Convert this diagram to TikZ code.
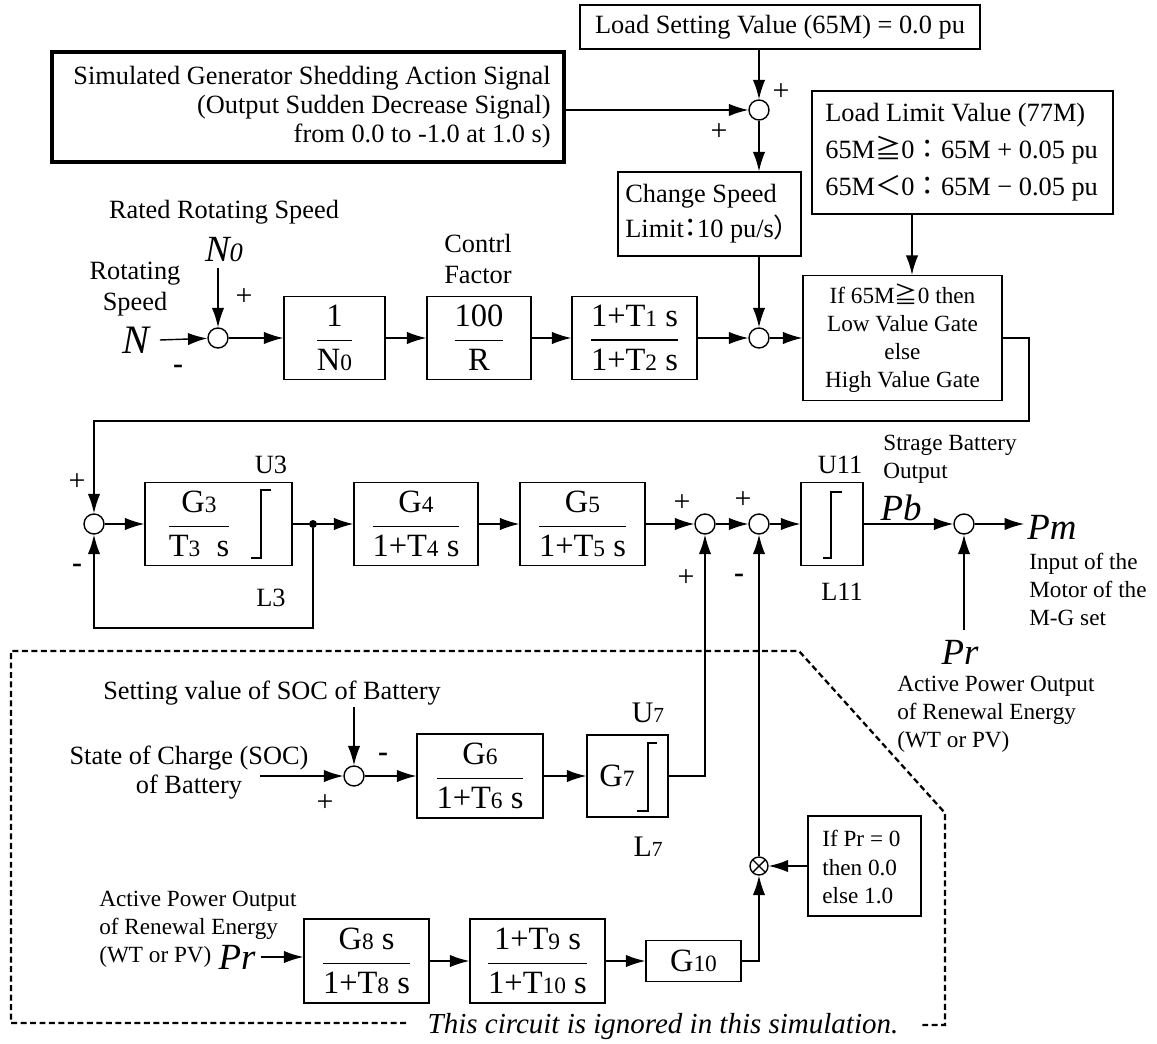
\documentclass[tikz,border=0pt]{standalone}
\usepackage{fix-cm}
\usepackage{amsmath}
\usepackage{graphicx}
\usepackage{fontspec}
\setmainfont{Liberation Serif}
\newfontfamily\cjk{Noto Sans CJK JP}
\newfontfamily\cjkp[RawFeature=+palt]{Noto Sans CJK JP}
\usetikzlibrary{arrows.meta}
\newcommand{\ix}[1]{\scalebox{0.72}{#1}}
\newcommand{\bfr}[2]{$\genfrac{}{}{0.9pt}{0}{\text{#1}}{\text{#2}}$}
\tikzset{
  blk/.style={draw,line width=0.8pt,inner sep=0pt},
  sumj/.style={draw,circle,line width=0.8pt,minimum size=0.4cm,inner sep=0pt},
  arr/.style={line width=0.8pt,-{Latex[length=11pt,width=7pt]}},
  ln/.style={line width=0.8pt},
  txt/.style={inner sep=0pt,font=\fontsize{15}{17}\selectfont},
  stxt/.style={inner sep=0pt,font=\fontsize{13.2}{16}\selectfont},
  sgn/.style={inner sep=0pt,font=\fontsize{17}{17}\selectfont},
  frc/.style={inner sep=0pt,font=\fontsize{18.5}{22}\selectfont},
  sig/.style={inner sep=0pt,font=\fontsize{21}{24}\selectfont\itshape},
  dsh/.style={line width=1.3pt,dash pattern=on 3.4pt off 2pt}
}
\begin{document}
\begin{tikzpicture}[x=0.02cm,y=-0.02cm]
\useasboundingbox(0,0)rectangle(1157,1044);
\node[blk,txt,minimum width=8cm,minimum height=0.88cm](load)at(780,27){Load Setting Value (65M) = 0.0 pu};
\node[blk,line width=1.8pt,minimum width=10.24cm,minimum height=2.2cm](sim)at(308,107){};
\node[txt,align=right,anchor=east,font=\fontsize{15}{16.5}\selectfont](simtxt)at(551,107){Simulated Generator Shedding Action Signal\\(Output Sudden Decrease Signal)\\from 0.0 to -1.0 at 1.0 s)};
\node[sumj](sl)at(759,110){};
\node[sgn](slp1)at(781,92){+};
\node[sgn](slp2)at(719,132){+};
\node[blk,minimum width=3.66cm,minimum height=1.68cm](chg)at(709.5,214){};
\node[txt,align=left,anchor=west,font=\fontsize{15}{19.8}\selectfont](chgtxt)at(625,214){Change Speed\\Limit{\cjkp ：}10 pu/s{\cjkp ）}};
\node[blk,minimum width=6.02cm,minimum height=2.46cm](lim)at(962.5,152.5){};
\node[txt,align=left,anchor=west,font=\fontsize{15}{21}\selectfont](limtxt)at(825,152.5){Load Limit Value (77M)\\65M{\cjk ≧}0{\cjk ：}65M + 0.05 pu\\65M{\cjk ＜}0{\cjk ：}65M − 0.05 pu};
\node[txt](rated)at(224,212){Rated Rotating Speed};
\node[sig](n0lab)at(224,250){N\ix0};
\node[txt,align=center,font=\fontsize{15}{17.6}\selectfont](rot)at(135,289){Rotating\\Speed};
\node[sig,font=\fontsize{23}{26}\selectfont\itshape](nlab)at(136,340){N};
\node[sumj](s1)at(218,338){};
\coordinate(nset)at(218,268);
\node[sgn](s1m)at(178,369){\textbf{-}};
\node[sgn](s1p)at(244,297){+};
\node[blk,frc,minimum width=2.02cm,minimum height=1.66cm](n0box)at(334.5,338){\bfr{1}{N\ix0}};
\node[txt,align=center,font=\fontsize{15}{18}\selectfont](ctl)at(478,259){Contrl\\Factor};
\node[blk,frc,minimum width=2.08cm,minimum height=1.66cm](rbox)at(479,338){\bfr{100}{R}};
\node[blk,frc,minimum width=2.5cm,minimum height=1.66cm](t1box)at(634.5,338){\bfr{1+T\ix1 s}{1+T\ix2 s}};
\node[sumj](s2)at(759,338){};
\node[blk,stxt,minimum width=3.98cm,minimum height=2.5cm,align=center](gate)at(902.5,338){If 65M{\cjk ≧}0 then\\Low Value Gate\\else\\High Value Gate};
\coordinate(lg)at(912,250);
\coordinate(gr)at(1029,421);
\node[sumj](s3)at(94,524){};
\node[sgn](s3p)at(77,482){+};
\node[sgn](s3m)at(77,568){\textbf{-}};
\node[blk,minimum width=2.94cm,minimum height=1.66cm](g3box)at(218.5,524){};
\node[frc](g3frac)at(199,524){\bfr{G\ix3}{T\ix3\ \ s}};
\draw[ln](251,558)--(261,558)--(261,490)--(271,490);
\node[txt](u3)at(271,465){U3};
\node[txt](l3)at(271,598){L3};
\node[circle,fill,inner sep=0pt,minimum size=0.16cm](dot)at(313,524){};
\coordinate(fb)at(94,628);
\node[blk,frc,minimum width=2.48cm,minimum height=1.66cm](g4box)at(416,524){\bfr{G\ix4}{1+T\ix4 s}};
\node[blk,frc,minimum width=2.5cm,minimum height=1.66cm](g5box)at(582.5,524){\bfr{G\ix5}{1+T\ix5 s}};
\node[sumj](s4)at(705,524){};
\node[sumj](s5)at(759,524){};
\node[sgn](s4p1)at(682,503){+};
\node[sgn](s4p2)at(686,578){+};
\node[sgn](s5p)at(743,500){+};
\node[sgn](s5m)at(739,578){\textbf{-}};
\node[blk,minimum width=1.24cm,minimum height=1.66cm](u11box)at(832,524){};
\draw[ln](823,558)--(831,558)--(831,492)--(842,492);
\node[txt](u11)at(840,465){U11};
\node[txt](l11)at(842,592){L11};
\node[stxt,align=left,anchor=west](sbo)at(883,459){Strage Battery\\Output};
\node[sig](pb)at(901,508){Pb};
\node[sumj](s6)at(964,524){};
\coordinate(pmend)at(1024,524);
\node[sig](pm)at(1052,527){Pm};
\node[stxt,align=left,anchor=west](mot)at(1029,589.5){Input of the\\Motor of the\\M-G set};
\coordinate(prup)at(964,630);
\node[sig](prr)at(960,652){Pr};
\node[stxt,align=left,anchor=west](ape)at(897,714){Active Power Output\\of Renewal Energy\\(WT or PV)};
\draw[dsh](406,1023)--(11,1023)--(11,651)--(799,651)--(945,813)--(945,1025)--(922,1025);
\node[inner sep=0pt,font=\fontsize{16.5}{19}\selectfont\itshape](ign)at(663,1027){This circuit is ignored in this simulation.};
\node[txt](socset)at(272,693){Setting value of SOC of Battery};
\coordinate(socdn)at(354,707);
\node[txt,align=center,font=\fontsize{15}{16.5}\selectfont](soc)at(189,772.5){State of Charge (SOC)\\of Battery};
\coordinate(socin)at(260,776);
\node[sumj](s7)at(354,776){};
\node[sgn](s7m)at(383,757){\textbf{-}};
\node[sgn](s7p)at(325,803){+};
\node[blk,frc,minimum width=2.52cm,minimum height=1.68cm](g6box)at(480,776){\bfr{G\ix6}{1+T\ix6 s}};
\node[blk,minimum width=1.62cm,minimum height=1.64cm](g7box)at(627.5,776){};
\node[frc](g7txt)at(617,776){G\ix7};
\draw[ln](637,811)--(648,811)--(648,743)--(657,743);
\node[txt,font=\fontsize{17}{20}\selectfont](u7)at(648,713){U\ix7};
\node[txt,font=\fontsize{17}{20}\selectfont](l7)at(648,847){L\ix7};
\node[sumj,minimum size=0.36cm,path picture={\draw[ln](path picture bounding box.north west)--(path picture bounding box.south east)(path picture bounding box.north east)--(path picture bounding box.south west);}](mul)at(759,866){};
\node[blk,minimum width=2.26cm,minimum height=2cm](ifb)at(864.5,866){};
\node[stxt,align=left,anchor=west](ifbtxt)at(822,867){If Pr = 0\\then 0.0\\else 1.0};
\node[stxt,align=left,anchor=west](apl)at(99,929){Active Power Output\\of Renewal Energy\\(WT or PV)};
\node[sig](prl)at(237,957){Pr};
\node[blk,frc,minimum width=2.5cm,minimum height=1.68cm](g8box)at(366.5,961){\bfr{G\ix8 s}{1+T\ix8 s}};
\node[blk,frc,minimum width=2.7cm,minimum height=1.68cm](t9box)at(537.5,961){\bfr{1+T\ix9 s}{1+T\ix{10} s}};
\node[blk,frc,minimum width=1.9cm,minimum height=0.82cm](g10box)at(693.5,961){G\ix{10}};
\draw[arr](load.south-|sl)--(sl);
\draw[arr](sim.east|-sl)--(sl);
\draw[arr](sl)--(sl|-chg.north);
\draw[arr](chg.south-|s2)--(s2);
\draw[arr](lim.south-|lg)--(gate.north-|lg);
\draw[arr]([xshift=0.2cm]nlab.east)--(s1);
\draw[arr](nset)--(s1);
\draw[arr](s1)--(n0box);
\draw[arr](n0box)--(rbox);
\draw[arr](rbox)--(t1box);
\draw[arr](t1box)--(s2);
\draw[arr](s2)--(gate);
\draw[arr](gate.east)-|(gr)-|(s3);
\draw[arr](s3)--(g3box);
\draw[ln](g3box)--(dot);
\draw[arr](dot)--(dot|-fb)--(fb)--(s3);
\draw[arr](dot)--(g4box);
\draw[arr](g4box)--(g5box);
\draw[arr](g5box)--(s4);
\draw[arr](s4)--(s5);
\draw[arr](s5)--(u11box);
\draw[arr](u11box)--(s6);
\draw[arr](s6)--(pmend);
\draw[arr](prup)--(s6);
\draw[arr](socin)--(s7);
\draw[arr](socdn)--(s7);
\draw[arr](s7)--(g6box);
\draw[arr](g6box)--(g7box);
\draw[arr](g7box)-|(s4);
\draw[arr](ifb)--(mul);
\draw[arr](mul)--(s5);
\draw[arr]([xshift=0.1cm]prl.east)--(prl.east-|g8box.west);
\draw[arr](g8box)--(t9box);
\draw[arr](t9box)--(g10box);
\draw[arr](g10box)-|(mul);
\end{tikzpicture}
\end{document}
